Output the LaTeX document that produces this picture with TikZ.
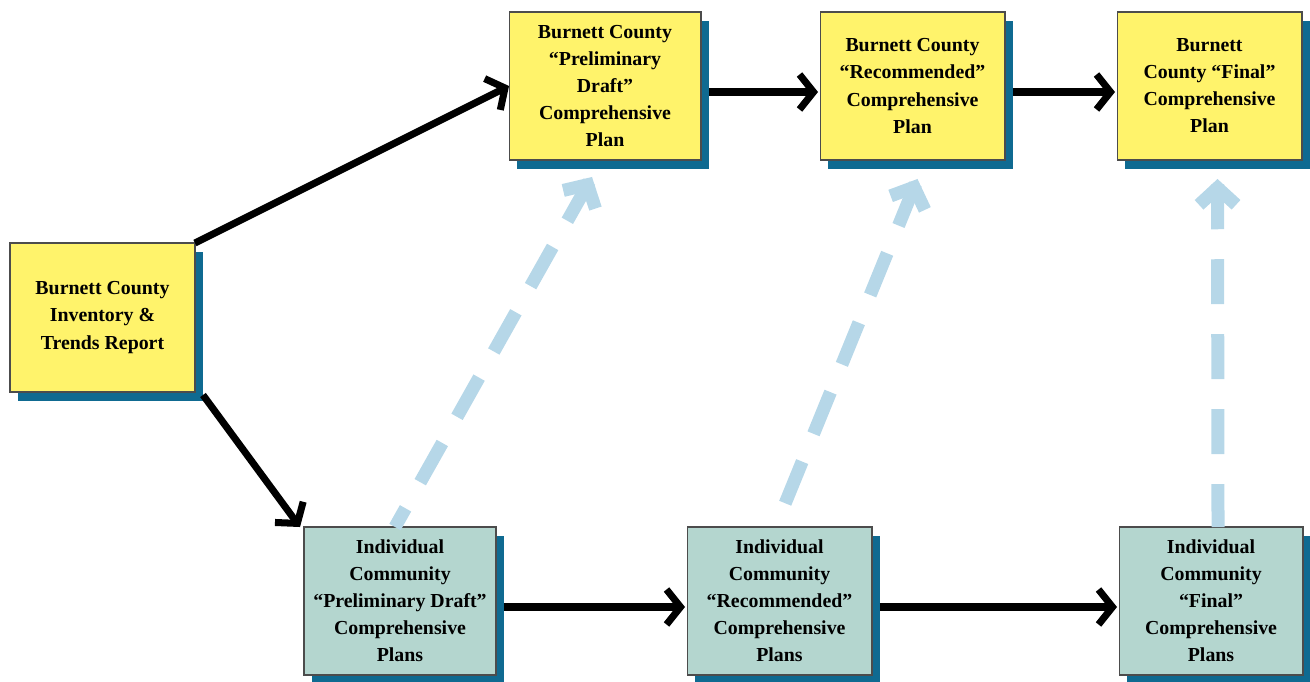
\documentclass[tikz,border=0pt]{standalone}
\usepackage{fontspec}
\setmainfont{Liberation Serif}
\usetikzlibrary{arrows.meta,shadows,decorations.markings}
\definecolor{countyyellow}{HTML}{FFF36B}
\definecolor{communityteal}{HTML}{B4D6CF}
\definecolor{shadowblue}{HTML}{0F6A91}
\definecolor{draftblue}{HTML}{B6D7E8}
\tikzset{
  planbox/.style={draw=black!70,line width=0.6pt,inner sep=0pt,outer sep=0pt,
    minimum height=2.96cm,align=center,
    font=\bfseries\fontsize{11.3}{15.4}\selectfont,
    drop shadow={fill=shadowblue,opacity=1,shadow xshift=0.16cm,shadow yshift=-0.18cm}},
  countybox/.style={planbox,fill=countyyellow},
  communitybox/.style={planbox,fill=communityteal},
  flowarrow/.style={line width=4pt,-{Straight Barb[length=2.8mm,width=7mm]}},
  % drawn from the head back to the tail, so the dashes start at the head
  draftarrow/.style={draftblue,line width=7.4pt,dash pattern=on 0.9cm off 0.6cm,
    shorten <=3pt,
    postaction={decorate,decoration={markings,
      mark=at position 0 with {\arrowreversed[solid,draftblue,line width=7.4pt]{Straight Barb[length=3.4mm,width=7.4mm]}}}}}
}
\begin{document}
\begin{tikzpicture}[x=0.02cm,y=0.02cm]
  \useasboundingbox (0,0) rectangle (1310,681);
  % county plans, top row
  \node[countybox,minimum width=3.7cm,minimum height=2.98cm] (inv) at (102.5,363.5)
    {Burnett County\\Inventory \&\\Trends Report};
  \node[countybox,minimum width=3.84cm] (cprelim) at (605,595)
    {Burnett County\\``Preliminary\\Draft''\\Comprehensive\\Plan};
  \node[countybox,minimum width=3.7cm] (crec) at (912.5,595)
    {Burnett County\\``Recommended''\\Comprehensive\\Plan};
  \node[countybox,minimum width=3.7cm] (cfinal) at (1209.5,595)
    {Burnett\\County ``Final''\\Comprehensive\\Plan};
  % community plans, bottom row
  \node[communitybox,minimum width=3.84cm] (iprelim) at (400,80)
    {Individual\\Community\\``Preliminary Draft''\\Comprehensive\\Plans};
  \node[communitybox,minimum width=3.7cm] (irec) at (779.5,80)
    {Individual\\Community\\``Recommended''\\Comprehensive\\Plans};
  \node[communitybox,minimum width=3.68cm] (ifinal) at (1211,80)
    {Individual\\Community\\``Final''\\Comprehensive\\Plans};
  % black flow
  \draw[flowarrow] (inv.north east) -- (cprelim.west);
  \draw[flowarrow] ([shift={(8,-3)}]inv.south east) -- ([shift={(-4,0)}]iprelim.north west);
  \foreach \a/\b in {cprelim/crec,crec/cfinal,iprelim/irec,irec/ifinal} {
    \draw[flowarrow] ([shift={(8,-6)}]\a.east) -- ([shift={(-2,-6)}]\b.west);
  }
  % community drafts feed county drafts
  \draw[draftarrow] ([shift={(-13,-17)}]cprelim.south) -- ([shift={(-5,0)}]iprelim.north);
  \draw[draftarrow] ([shift={(5,-19)}]crec.south) -- ([shift={(-4,0)}]irec.north);
  \draw[draftarrow] ([shift={(8,-19)}]cfinal.south) -- ([shift={(7,0)}]ifinal.north);
\end{tikzpicture}
\end{document}
